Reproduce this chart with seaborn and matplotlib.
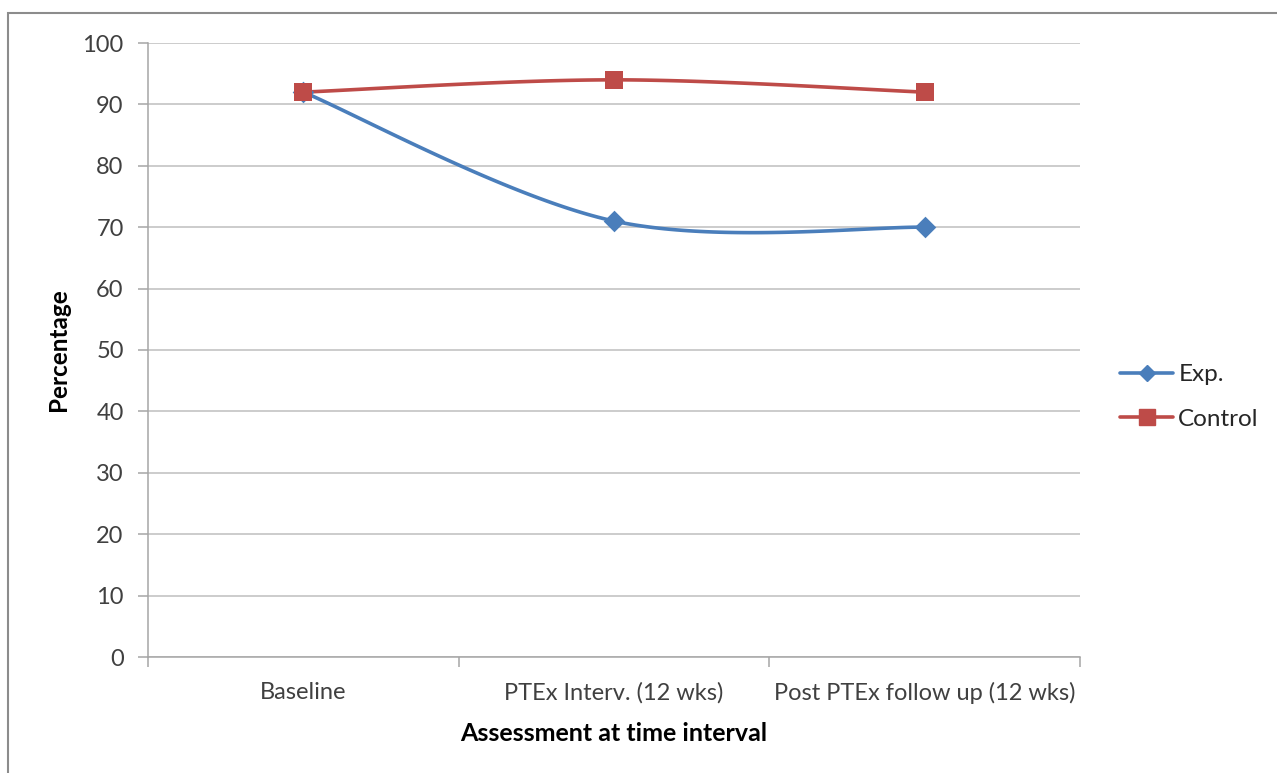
import numpy as np
import pandas as pd
import matplotlib
matplotlib.use("Agg")
import matplotlib.pyplot as plt
from matplotlib.patches import Rectangle
from matplotlib.lines import Line2D
import seaborn as sns

categories = ["Baseline", "PTEx Interv. (12 wks)", "Post PTEx follow up (12 wks)"]
exp_values = [92, 71, 70]
control_values = [92, 94, 92]
y_ticks = [0, 10, 20, 30, 40, 50, 60, 70, 80, 90, 100]

BLUE = "#4a7ebb"
RED = "#be4b48"

sns.set_theme(style="white")
plt.rcParams["font.family"] = ["Lato", "DejaVu Sans"]

fig = plt.figure(figsize=(12.77, 7.73), dpi=100)
ax = fig.add_axes([148 / 1277, 1 - 657 / 773, (1080 - 148) / 1277, (657 - 43) / 773])


def smooth(xs, ys, n=60):
    """Catmull-Rom style smoothing through the given points (as in office charts)."""
    xs = np.asarray(xs, float)
    ys = np.asarray(ys, float)
    # smooth in roughly isotropic screen space
    sy = 614 / 100.0
    sx = 310.7
    P = np.column_stack([xs * sx, ys * sy])
    P_ext = np.vstack([P[0], P, P[-1]])
    out = []
    for i in range(len(P) - 1):
        p0, p1, p2, p3 = P_ext[i], P_ext[i + 1], P_ext[i + 2], P_ext[i + 3]
        b1 = p1 + (p2 - p0) / 6.0
        b2 = p2 - (p3 - p1) / 6.0
        t = np.linspace(0, 1, n)[:, None]
        seg = ((1 - t) ** 3) * p1 + 3 * ((1 - t) ** 2) * t * b1 + 3 * (1 - t) * t ** 2 * b2 + t ** 3 * p2
        out.append(seg if i == 0 else seg[1:])
    out = np.vstack(out)
    return out[:, 0] / sx, out[:, 1] / sy


xpos = np.arange(len(categories))

for vals, color, marker, ms in [
    (exp_values, BLUE, "D", 11),
    (control_values, RED, "s", 13.5),
]:
    cx, cy = smooth(xpos, vals)
    curve = pd.DataFrame({"x": cx, "y": cy})
    sns.lineplot(data=curve, x="x", y="y", ax=ax, color=color, linewidth=2.6,
                 sort=False, estimator=None, zorder=3)
    pts = pd.DataFrame({"x": xpos, "y": vals})
    sns.scatterplot(data=pts, x="x", y="y", ax=ax, color=color, marker=marker,
                    s=ms ** 2, linewidth=0, zorder=4)

ax.set_xlim(-0.5, len(categories) - 0.5)
ax.set_ylim(0, 100)
ax.set_yticks(y_ticks)
ax.set_yticklabels([str(v) for v in y_ticks])
ax.set_xticks(xpos)
ax.set_xticklabels(categories)
ax.set_xticks(np.arange(len(categories) + 1) - 0.5, minor=True)

ax.yaxis.grid(True, color="#bfbfbf", linewidth=1.1)
ax.xaxis.grid(False)
ax.set_axisbelow(True)

for side in ["top", "right"]:
    ax.spines[side].set_visible(False)
for side in ["left", "bottom"]:
    ax.spines[side].set_visible(True)
    ax.spines[side].set_color("#a6a6a6")
    ax.spines[side].set_linewidth(1.1)

ax.tick_params(axis="y", which="major", direction="out", length=7, width=1.1,
               color="#a6a6a6", labelsize=17, labelcolor="#404040", pad=10.5, left=True)
ax.tick_params(axis="x", which="major", length=0, labelsize=17, labelcolor="#404040", pad=18)
ax.tick_params(axis="x", which="minor", direction="out", length=7, width=1.1,
               color="#a6a6a6", bottom=True)

ax.set_ylabel("Percentage", fontsize=17.5, fontweight="bold", color="black", labelpad=9)
ax.set_xlabel("Assessment at time interval", fontsize=18, fontweight="bold",
              color="black", labelpad=13)

handles = [
    Line2D([0], [0], color=BLUE, linewidth=2.6, marker="D", markersize=8),
    Line2D([0], [0], color=RED, linewidth=2.6, marker="s", markersize=11),
]
leg = ax.legend(handles, ["Exp.", "Control"], loc="center left",
                bbox_to_anchor=((1120 - 148) / 932, (657 - 397) / 614),
                frameon=False, fontsize=17.5, borderpad=0, borderaxespad=0,
                handlelength=2.2, handletextpad=0.2, labelspacing=0.95)
for t in leg.get_texts():
    t.set_color("#262626")

# outer chart border
fig.patches.append(Rectangle((8 / 1277, -0.05), 1.2, 1 - 13 / 773 + 0.05,
                             transform=fig.transFigure, fill=False,
                             edgecolor="#8c8c8c", linewidth=1.5))

fig.savefig("out.png", dpi=100, facecolor="white")
